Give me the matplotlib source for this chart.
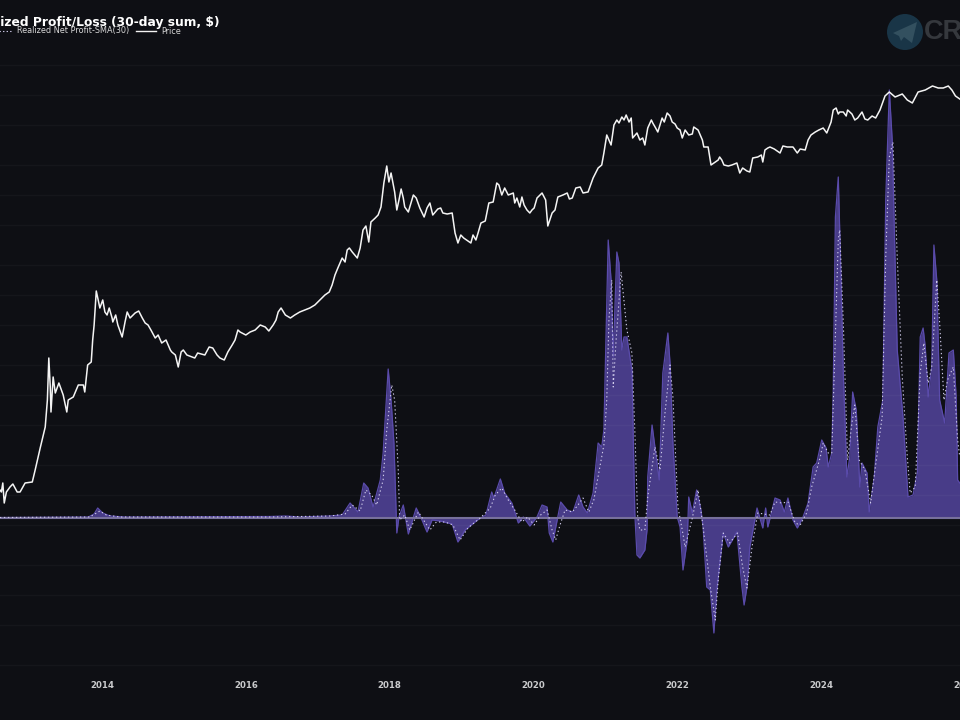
"""Realized Profit/Loss (30-day sum) against price, dark full-bleed chart."""

import matplotlib
matplotlib.use("Agg")
import matplotlib.pyplot as plt
import matplotlib.ticker as mticker
from matplotlib.lines import Line2D
from matplotlib.patches import Circle, Polygon
import numpy as np

BG = "#0e0f14"
FILL = "#483c88"
EDGE = "#5a4bab"
ZERO = "#77709c"
DOTS = "#cfcbea"
WHITE = "#f4f4f4"

TITLE = "Realized Profit/Loss (30-day sum, $)"
LEGEND_LABELS = ["Realized Net Profit-SMA(30)", "Price"]
TICK_YEARS = [2014, 2016, 2018, 2020, 2022, 2024, 2026]
GRID_PRICES = [0.2, 0.5, 1, 2, 5, 10, 20, 50, 100, 200, 500, 1000, 2000, 5000,
               10000, 20000, 50000, 100000, 200000]

price_years = [
    2012.58, 2012.60, 2012.62, 2012.64, 2012.67, 2012.72, 2012.76, 2012.82, 2012.86, 2012.93,
    2013.03, 2013.07, 2013.14, 2013.21, 2013.24, 2013.26, 2013.28, 2013.29, 2013.32, 2013.35,
    2013.40, 2013.46, 2013.51, 2013.53, 2013.60, 2013.67, 2013.74, 2013.76, 2013.80, 2013.85,
    2013.87, 2013.89, 2013.92, 2013.96, 2014.01, 2014.07, 2014.14, 2014.22, 2014.28, 2014.32,
    2014.39, 2014.46, 2014.56, 2014.64, 2014.74, 2014.83, 2014.95, 2015.02, 2015.06, 2015.10,
    2015.18, 2015.29, 2015.43, 2015.54, 2015.64, 2015.75, 2015.85, 2015.92, 2016.00, 2016.13,
    2016.27, 2016.38, 2016.45, 2016.55, 2016.68, 2016.82, 2016.96, 2017.10, 2017.20, 2017.28,
    2017.38, 2017.41, 2017.44, 2017.55, 2017.59, 2017.63, 2017.67, 2017.71, 2017.80, 2017.84,
    2017.88, 2017.92, 2017.96, 2017.99, 2018.02, 2018.07, 2018.10, 2018.16, 2018.21, 2018.26,
    2018.33, 2018.42, 2018.48, 2018.56, 2018.60, 2018.67, 2018.74, 2018.87, 2018.91, 2018.95,
    2018.99, 2019.09, 2019.16, 2019.23, 2019.27, 2019.33, 2019.38, 2019.44, 2019.49, 2019.52,
    2019.56, 2019.60, 2019.65, 2019.72, 2019.74, 2019.81, 2019.84, 2019.91, 2019.98, 2020.05,
    2020.12, 2020.17, 2020.20, 2020.26, 2020.30, 2020.34, 2020.41, 2020.54, 2020.59, 2020.65,
    2020.69, 2020.76, 2020.83, 2020.90, 2020.95, 2020.98, 2021.02, 2021.08, 2021.12, 2021.16,
    2021.19, 2021.23, 2021.26, 2021.29, 2021.33, 2021.36, 2021.38, 2021.44, 2021.48, 2021.55,
    2021.59, 2021.66, 2021.73, 2021.79, 2021.86, 2021.93, 2022.00, 2022.07, 2022.11, 2022.16,
    2022.23, 2022.32, 2022.37, 2022.43, 2022.47, 2022.53, 2022.59, 2022.65, 2022.71, 2022.83,
    2022.87, 2022.97, 2023.01, 2023.05, 2023.12, 2023.19, 2023.22, 2023.29, 2023.39, 2023.47,
    2023.61, 2023.67, 2023.78, 2023.82, 2023.92, 2024.03, 2024.08, 2024.14, 2024.17, 2024.21,
    2024.26, 2024.37, 2024.51, 2024.57, 2024.65, 2024.82, 2024.89, 2024.95, 2025.03, 2025.13,
    2025.20, 2025.27, 2025.35, 2025.45, 2025.55, 2025.63, 2025.70, 2025.77, 2025.82, 2025.87,
    2025.93,
]
# log10 of the price in dollars
price_log10 = [
    1.05, 1.03, 1.12, 0.92, 1.03, 1.08, 1.11, 1.03, 1.03, 1.12,
    1.13, 1.25, 1.47, 1.68, 1.95, 2.37, 2.08, 1.83, 2.18, 2.02,
    2.12, 2.00, 1.83, 1.95, 1.98, 2.10, 2.10, 2.03, 2.30, 2.33,
    2.55, 2.70, 3.04, 2.90, 2.95, 2.80, 2.77, 2.70, 2.58, 2.73,
    2.77, 2.82, 2.77, 2.70, 2.57, 2.52, 2.45, 2.40, 2.28, 2.43,
    2.40, 2.37, 2.40, 2.47, 2.37, 2.43, 2.55, 2.63, 2.60, 2.65,
    2.68, 2.70, 2.83, 2.80, 2.80, 2.85, 2.90, 3.00, 3.10, 3.27,
    3.33, 3.45, 3.47, 3.37, 3.47, 3.65, 3.69, 3.53, 3.77, 3.80,
    3.88, 4.12, 4.29, 4.13, 4.22, 4.03, 3.85, 4.06, 3.88, 3.83,
    4.00, 3.87, 3.78, 3.92, 3.80, 3.86, 3.82, 3.82, 3.62, 3.52,
    3.60, 3.54, 3.60, 3.62, 3.72, 3.74, 3.92, 3.93, 4.12, 4.10,
    4.00, 4.07, 4.00, 4.02, 3.92, 3.88, 3.98, 3.85, 3.85, 3.97,
    4.02, 3.95, 3.69, 3.82, 3.85, 3.98, 4.00, 3.97, 4.07, 4.08,
    4.02, 4.03, 4.17, 4.27, 4.30, 4.42, 4.60, 4.50, 4.70, 4.75,
    4.72, 4.78, 4.75, 4.80, 4.73, 4.77, 4.57, 4.62, 4.55, 4.50,
    4.67, 4.72, 4.63, 4.77, 4.82, 4.73, 4.67, 4.57, 4.65, 4.60,
    4.68, 4.60, 4.48, 4.48, 4.30, 4.33, 4.38, 4.30, 4.29, 4.32,
    4.22, 4.24, 4.23, 4.37, 4.38, 4.33, 4.45, 4.48, 4.44, 4.49,
    4.48, 4.42, 4.45, 4.55, 4.63, 4.67, 4.62, 4.73, 4.85, 4.87,
    4.83, 4.85, 4.77, 4.83, 4.75, 4.85, 4.99, 5.03, 4.98, 5.01,
    4.95, 4.92, 5.03, 5.05, 5.09, 5.07, 5.07, 5.09, 5.05, 4.99,
    4.96,
]

# second pass of readings, the small swings between the points above
price_extra_years = [
    2013.97, 2014.04, 2014.10, 2014.15, 2014.19, 2014.35, 2014.51, 2014.60, 2014.68, 2014.78,
    2014.89, 2014.97, 2015.13, 2015.33, 2015.49, 2015.60, 2015.70, 2015.81, 2015.89, 2016.06,
    2016.20, 2016.32, 2016.42, 2016.49, 2016.62, 2016.75, 2016.89, 2017.03, 2017.16, 2017.24,
    2017.34, 2017.48, 2017.74, 2018.13, 2018.19, 2018.37, 2018.52, 2018.71, 2018.80, 2019.03,
    2019.13, 2019.20, 2019.77, 2019.87, 2019.95, 2020.01, 2020.47, 2020.50, 2021.52, 2021.64,
    2021.70, 2021.82, 2021.90, 2021.97, 2022.04, 2022.21, 2022.29, 2022.35, 2022.57, 2022.62,
    2022.76, 2022.91, 2023.17, 2023.26, 2023.35, 2023.43, 2023.53, 2023.71, 2023.86, 2023.97,
    2024.24, 2024.31, 2024.35, 2024.43, 2024.47, 2024.61, 2024.71, 2024.76,
]
price_extra_log10 = [
    2.87, 2.83, 2.87, 2.73, 2.80, 2.83, 2.84, 2.72, 2.65, 2.60,
    2.55, 2.43, 2.45, 2.42, 2.48, 2.40, 2.35, 2.50, 2.65, 2.63,
    2.70, 2.64, 2.75, 2.87, 2.77, 2.83, 2.87, 2.95, 3.03, 3.20,
    3.37, 3.43, 3.73, 3.95, 3.97, 3.97, 3.87, 3.87, 3.81, 3.57,
    3.52, 3.55, 3.97, 3.90, 3.82, 3.87, 4.02, 3.96, 4.57, 4.75,
    4.67, 4.73, 4.79, 4.71, 4.65, 4.61, 4.65, 4.55, 4.35, 4.35,
    4.30, 4.27, 4.40, 4.47, 4.46, 4.42, 4.48, 4.46, 4.60, 4.65,
    4.81, 4.83, 4.79, 4.81, 4.75, 4.76, 4.79, 4.77,
]

# billions of dollars
profit_years = [
    2012.58, 2013.81, 2013.89, 2013.94, 2014.01, 2014.11, 2014.32, 2016.34, 2016.55, 2016.75,
    2017.17, 2017.34, 2017.45, 2017.56, 2017.64, 2017.70, 2017.77, 2017.87, 2017.91, 2017.98,
    2018.02, 2018.06, 2018.10, 2018.13, 2018.19, 2018.26, 2018.37, 2018.45, 2018.52, 2018.59,
    2018.70, 2018.87, 2018.95, 2019.05, 2019.22, 2019.34, 2019.42, 2019.45, 2019.54, 2019.60,
    2019.70, 2019.79, 2019.86, 2019.95, 2020.05, 2020.12, 2020.19, 2020.22, 2020.27, 2020.33,
    2020.38, 2020.47, 2020.55, 2020.63, 2020.69, 2020.75, 2020.83, 2020.90, 2020.95, 2020.98,
    2021.04, 2021.08, 2021.11, 2021.16, 2021.19, 2021.23, 2021.26, 2021.30, 2021.37, 2021.41,
    2021.44, 2021.48, 2021.55, 2021.58, 2021.59, 2021.65, 2021.69, 2021.75, 2021.80, 2021.87,
    2021.90, 2021.94, 2022.00, 2022.04, 2022.08, 2022.14, 2022.16, 2022.21, 2022.27, 2022.33,
    2022.36, 2022.41, 2022.46, 2022.51, 2022.55, 2022.64, 2022.71, 2022.83, 2022.90, 2022.93,
    2022.97, 2023.01, 2023.11, 2023.19, 2023.23, 2023.26, 2023.32, 2023.36, 2023.43, 2023.49,
    2023.54, 2023.61, 2023.67, 2023.75, 2023.82, 2023.89, 2023.94, 2024.01, 2024.07, 2024.10,
    2024.15, 2024.17, 2024.20, 2024.24, 2024.26, 2024.31, 2024.36, 2024.40, 2024.44, 2024.49,
    2024.54, 2024.57, 2024.64, 2024.67, 2024.74, 2024.79, 2024.86, 2024.90, 2024.95, 2024.99,
    2025.06, 2025.08, 2025.14, 2025.21, 2025.28, 2025.34, 2025.38, 2025.42, 2025.45, 2025.49,
    2025.54, 2025.57, 2025.61, 2025.65, 2025.72, 2025.78, 2025.84, 2025.88, 2025.90, 2025.93,
]
profit_values = [
    0.1, 0.2, 0.8, 2.0, 1.0, 0.4, 0.2, 0.3, 0.4, 0.2,
    0.4, 0.6, 3.0, 1.2, 7.0, 6.0, 2.2, 7.6, 13.0, 29.8,
    23.6, 15.0, -3.0, 0.2, 2.6, -3.2, 2.0, -0.4, -2.8, -0.4,
    -0.6, -1.2, -4.8, -2.4, -0.4, 0.6, 5.2, 4.0, 7.8, 5.0,
    3.0, -1.0, 0.2, -1.6, 0.2, 2.6, 2.2, -3.0, -4.8, -0.4,
    3.2, 1.6, 1.2, 4.6, 2.2, 1.0, 5.0, 15.0, 14.2, 17.6,
    55.6, 47.6, 32.2, 53.2, 51.0, 33.6, 36.2, 36.2, 29.6, 1.0,
    -7.4, -8.0, -6.4, -2.4, 8.2, 18.6, 14.2, 7.6, 29.0, 37.0,
    31.0, 15.0, 0.2, -1.8, -10.4, -4.4, 4.2, 1.0, 5.6, 1.6,
    -1.8, -13.8, -14.4, -23.0, -14.4, -3.0, -5.8, -2.8, -13.8, -17.4,
    -13.8, -5.8, 2.0, -2.0, 2.0, -1.8, 1.6, 4.0, 3.6, 1.2,
    4.0, -0.4, -2.0, 0.2, 3.0, 10.2, 11.0, 15.6, 14.0, 10.2,
    13.0, 25.6, 60.2, 68.2, 57.6, 29.0, 8.2, 12.2, 25.2, 21.6,
    6.2, 11.0, 9.0, 1.2, 8.0, 18.2, 23.6, 63.6, 85.6, 75.6,
    33.6, 30.2, 20.2, 4.2, 4.6, 9.0, 36.2, 38.0, 34.2, 24.2,
    30.2, 54.6, 47.6, 23.6, 19.0, 33.0, 33.6, 24.2, 7.6, 7.0,
]

sma_years = [
    2012.58, 2013.83, 2013.97, 2014.06, 2014.25, 2016.34, 2017.17, 2017.38, 2017.48, 2017.59,
    2017.67, 2017.75, 2017.82, 2017.91, 2017.96, 2018.03, 2018.07, 2018.12, 2018.14, 2018.21,
    2018.28, 2018.40, 2018.49, 2018.56, 2018.65, 2018.77, 2018.88, 2018.98, 2019.09, 2019.26,
    2019.40, 2019.47, 2019.56, 2019.65, 2019.74, 2019.84, 2019.92, 2020.01, 2020.10, 2020.19,
    2020.26, 2020.31, 2020.37, 2020.44, 2020.54, 2020.62, 2020.69, 2020.77, 2020.84, 2020.93,
    2020.98, 2021.02, 2021.05, 2021.09, 2021.11, 2021.15, 2021.22, 2021.30, 2021.37, 2021.41,
    2021.45, 2021.48, 2021.55, 2021.59, 2021.69, 2021.76, 2021.83, 2021.90, 2021.94, 2022.01,
    2022.07, 2022.11, 2022.21, 2022.29, 2022.36, 2022.46, 2022.53, 2022.57, 2022.64, 2022.73,
    2022.84, 2022.91, 2022.97, 2023.04, 2023.12, 2023.29, 2023.36, 2023.46, 2023.54, 2023.64,
    2023.71, 2023.80, 2023.87, 2023.99, 2024.03, 2024.10, 2024.15, 2024.19, 2024.24, 2024.26,
    2024.31, 2024.37, 2024.43, 2024.47, 2024.53, 2024.61, 2024.69, 2024.75, 2024.85, 2024.90,
    2024.95, 2025.00, 2025.06, 2025.13, 2025.20, 2025.24, 2025.31, 2025.38, 2025.43, 2025.49,
    2025.54, 2025.61, 2025.65, 2025.71, 2025.76, 2025.84, 2025.90, 2025.93,
]
sma_values = [
    0.1, 0.2, 1.4, 0.6, 0.2, 0.2, 0.4, 0.8, 2.6, 1.4,
    5.6, 4.6, 2.6, 7.6, 17.6, 26.6, 23.6, 9.6, -0.4, 0.6,
    -2.4, 1.2, -0.8, -2.4, -0.8, -0.8, -1.4, -4.4, -2.0, 0.0,
    2.0, 4.6, 6.0, 3.6, 1.6, -0.8, 0.2, -1.4, 0.6, 1.6,
    -2.4, -4.4, -1.4, 1.6, 1.2, 2.6, 4.0, 1.2, 3.6, 10.6,
    14.6, 23.6, 39.6, 47.6, 26.2, 35.6, 49.2, 37.6, 33.0, 17.6,
    0.2, -2.4, -2.4, 4.2, 14.2, 9.6, 21.0, 30.6, 24.2, 2.2,
    -2.4, -5.8, 0.0, 5.6, -1.8, -13.8, -20.4, -12.4, -3.0, -5.0,
    -3.0, -9.8, -14.0, -5.8, 1.0, 0.6, 3.2, 3.0, 3.2, -1.0,
    -1.4, 1.0, 6.2, 12.2, 15.0, 13.0, 13.0, 32.2, 55.6, 57.6,
    39.0, 11.6, 19.0, 22.6, 11.6, 9.6, 3.0, 9.6, 20.2, 52.2,
    72.2, 75.2, 52.2, 28.2, 12.2, 5.0, 6.2, 29.0, 35.0, 27.0,
    30.2, 47.6, 39.0, 23.6, 27.6, 30.2, 15.6, 12.2,
]

all_years = np.array(price_years + price_extra_years)
all_log10 = np.array(price_log10 + price_extra_log10)
order = np.argsort(all_years, kind="stable")

fig = plt.figure(figsize=(9.6, 7.2), dpi=100, facecolor=BG)

# profit axis sits under the price axis, both fill the whole figure
ax_profit = fig.add_axes([0, 0, 1, 1], facecolor=BG)
ax_profit.fill_between(profit_years, profit_values, 0, color=FILL, linewidth=0, zorder=2)
ax_profit.plot(profit_years, profit_values, color=EDGE, linewidth=0.9, zorder=3)
ax_profit.axhline(0, color=ZERO, linewidth=1.5, zorder=4)
ax_profit.plot(sma_years, sma_values, color=DOTS, linewidth=0.8, linestyle=(0, (1.2, 2.4)), zorder=5)
ax_profit.set_xlim(2012.581, 2025.933)
ax_profit.set_ylim(-40.4, 103.6)
ax_profit.axis("off")

ax_price = fig.add_axes([0, 0, 1, 1], facecolor="none")
ax_price.plot(all_years[order], 10 ** all_log10[order], color=WHITE, linewidth=1.1)
ax_price.set_yscale("log")
ax_price.set_xlim(2012.581, 2025.933)
ax_price.set_ylim(10 ** -1.25, 10 ** 5.95)
ax_price.set_yticks(GRID_PRICES)
ax_price.yaxis.set_minor_locator(mticker.NullLocator())
ax_price.set_xticks([])
ax_price.tick_params(axis="y", length=0, labelleft=False)
ax_price.grid(True, axis="y", color="white", alpha=0.03, linewidth=1.0)
for sp in ax_price.spines.values():
    sp.set_visible(False)

for yr in TICK_YEARS:
    ax_price.text(yr, 34 / 720, str(yr), transform=ax_price.get_xaxis_transform(),
                  ha="center", va="center", color="#c9cacc", fontsize=6.2, fontweight="bold",
                  clip_on=False)

# watermark, title and legend are laid out in pixels on an overlay
ax_top = fig.add_axes([0, 0, 1, 1], facecolor="none")
ax_top.set_xlim(0, 960)
ax_top.set_ylim(720, 0)
ax_top.axis("off")
ax_top.add_patch(Circle((905, 32), 18, color="#193547", linewidth=0))
ax_top.add_patch(Polygon([[893, 33], [917, 22], [912, 43], [904, 37], [901, 41], [899, 36]],
                         closed=True, color="#33505f", linewidth=0))
ax_top.text(924, 32, "CRYPTO", color="#35383d", fontsize=19.5, fontweight="bold", va="center",
            ha="left", family="Liberation Sans")

ax_top.text(219, 22.5, TITLE, color="white", fontsize=8.8, fontweight="bold", ha="right", va="center")
handles = [
    Line2D([0], [0], color=DOTS, linewidth=0.8, linestyle=(0, (1.2, 2))),
    Line2D([0], [0], color=WHITE, linewidth=1.0),
]
ax_top.legend(handles, LEGEND_LABELS, ncol=2, loc="center right", bbox_to_anchor=(181 / 960, 1 - 31 / 720),
              frameon=False, fontsize=5.9, labelcolor="#d8d8d8", handlelength=2.45,
              columnspacing=0.9, handletextpad=0.6, borderpad=0, borderaxespad=0)

fig.savefig("out.png", dpi=100, facecolor=BG)
